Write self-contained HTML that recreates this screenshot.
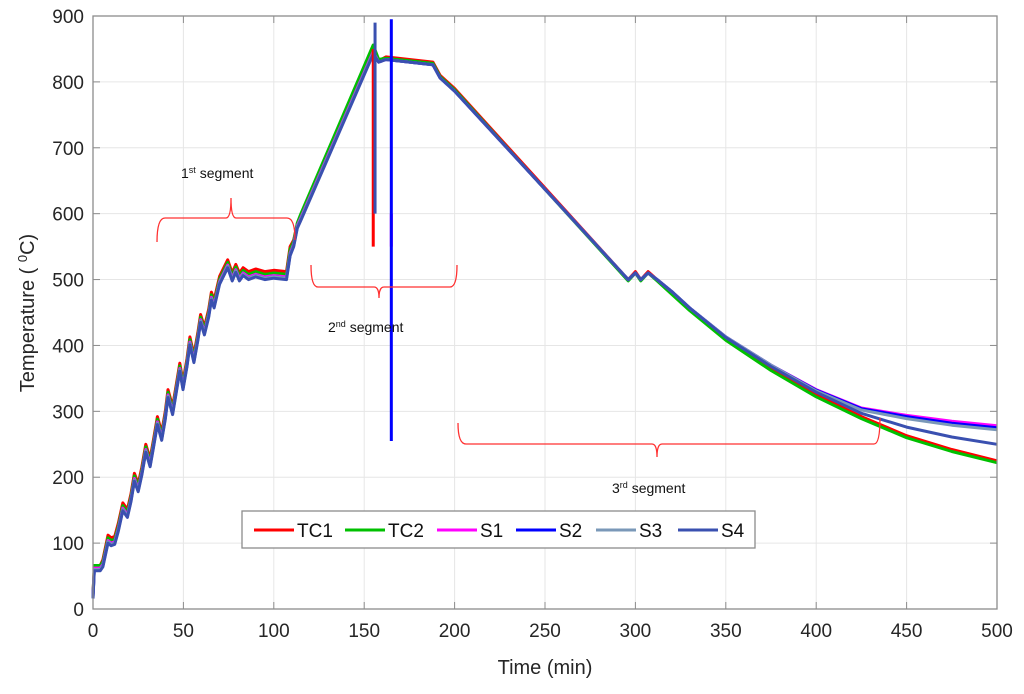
<!DOCTYPE html>
<html><head><meta charset="utf-8"><style>
body{margin:0;background:#fff;font-family:"Liberation Sans",sans-serif}
svg{display:block}
</style></head><body>
<svg id="chart" width="1024" height="694" xmlns="http://www.w3.org/2000/svg"></svg>
<script>
const times=[0,0.7,4,5.5,8.3,10,12,14,16.5,19,21,22.9,25,27,29.2,31.6,33.5,35.6,38,40,41.5,44,46,48,49.8,52,53.6,55.8,58,59.5,61.6,64,65.5,67,70,74.5,77,79,81,83,86,90,95,100,107,109,111,113,115,155,158,162,175,188,192,200,296,300,303,307,312,320,330,350,375,400,425,450,475,500];
const tc1=[22,66,66,75,112,108,110,130,161,151,175,206,190,215,250,228,258,292,268,300,333,307,340,373,345,380,413,386,420,447,428,455,481,469,505,530,510,523,510,518,512,516,512,514,512,550,560,585,598,852,832,838,834,830,810,790,500,512,500,512,500,480,455,410,365,325,292,263,242,225];
const tc2=[22,66,66,72,108,104,106,126,157,147,171,202,186,211,246,224,254,288,264,296,329,303,336,369,341,376,409,382,416,443,424,451,477,465,501,526,506,519,506,514,508,512,508,510,508,546,558,586,600,856,834,836,832,828,808,788,498,510,498,510,498,478,453,408,362,322,289,260,239,222];
const s1=[20,62,62,68,104,100,102,122,153,143,167,198,182,207,242,220,250,284,260,292,325,299,332,365,337,372,405,378,412,439,420,447,473,461,497,522,502,515,502,510,504,508,504,506,504,540,554,582,594,846,830,834,830,826,806,786,500,510,500,510,500,482,457,413,370,333,305,294,285,278];
const s2=[18,60,60,66,102,98,100,120,151,141,165,196,180,205,240,218,248,282,258,290,323,297,330,363,335,370,403,376,410,437,418,445,471,459,495,520,500,513,500,508,502,506,502,504,502,538,552,580,592,844,830,834,830,826,806,786,500,510,500,510,500,482,457,413,370,332,304,292,282,275];
const s3=[18,60,60,66,102,98,100,120,151,141,165,196,180,205,240,218,248,282,258,290,323,297,330,363,335,370,403,376,410,437,418,445,471,459,495,520,500,513,500,508,502,506,502,504,502,538,552,580,592,844,830,834,830,826,806,786,500,510,500,510,500,482,457,413,370,331,302,289,279,272];
const s4=[16,58,58,64,100,96,98,118,149,139,163,194,178,203,238,216,246,280,256,288,321,295,328,361,333,368,401,374,408,435,416,443,469,457,493,518,498,511,498,506,500,504,500,502,500,536,550,578,590,842,830,834,830,826,806,786,500,510,500,510,500,482,457,412,368,329,297,276,261,250];
const seriesNames=["TC1","TC2","S1","S2","S3","S4"];
const spikeT=[155,156,165,165];
const spikeLo=[550,600,550,255];
const spikeHi=[850,890,600,895];
const spikeSeries=[0,5,2,3];
const xTicks=[0,50,100,150,200,250,300,350,400,450,500];
const yTicks=[0,100,200,300,400,500,600,700,800,900];

const colors=["#ff0000","#00c000","#ff00ff","#0000ff","#7a98b8","#3a50b0"];
const L=93,R=997,T=16,B=609;
const xs=v=>L+(v-0)/500*(R-L);
const ys=v=>B-(v/900)*(B-T);
const svg=document.getElementById('chart');
const NS="http://www.w3.org/2000/svg";
function mk(tag,attrs,parent){const e=document.createElementNS(NS,tag);for(const k in attrs)e.setAttribute(k,attrs[k]);(parent||svg).appendChild(e);return e;}

const grid=mk('g',{});


xTicks.forEach(v=>{const l=mk('line',{x1:xs(v),x2:xs(v),y1:T,y2:B,stroke:'#e6e6e6','stroke-width':1},grid);

});
yTicks.forEach(v=>{const l=mk('line',{x1:L,x2:R,y1:ys(v),y2:ys(v),stroke:'#e6e6e6','stroke-width':1},grid);

});

const data=[tc1,tc2,s1,s2,s3,s4];
const lines=mk('g',{});


data.forEach((arr,i)=>{
  const d=arr.map((v,j)=>(j?'L':'M')+xs(times[j]).toFixed(1)+' '+ys(v).toFixed(1)).join(' ');
  const p=mk('path',{d:d,fill:'none',stroke:colors[i],'stroke-width':3,'stroke-linejoin':'round'},lines);
  
  
});
spikeT.forEach((t,i)=>{
  const l=mk('line',{x1:xs(t),x2:xs(t),y1:ys(spikeLo[i]),y2:ys(spikeHi[i]),stroke:colors[spikeSeries[i]],'stroke-width':3},lines);
  
  
});

const ax=mk('g',{});


const box=mk('rect',{x:L,y:T,width:R-L,height:B-T,fill:'none',stroke:'#8c8c8c','stroke-width':1.3},ax);


xTicks.forEach(v=>{
  mk('line',{x1:xs(v),x2:xs(v),y1:B,y2:B-7,stroke:'#8c8c8c'},ax);
  mk('line',{x1:xs(v),x2:xs(v),y1:T,y2:T+7,stroke:'#8c8c8c'},ax);
  const t=mk('text',{x:xs(v),y:B+28,'text-anchor':'middle','font-size':19,fill:'#262626'},ax);t.textContent=v;
  
  
});
yTicks.forEach(v=>{
  mk('line',{x1:L,x2:L+7,y1:ys(v),y2:ys(v),stroke:'#8c8c8c'},ax);
  mk('line',{x1:R,x2:R-7,y1:ys(v),y2:ys(v),stroke:'#8c8c8c'},ax);
  const t=mk('text',{x:L-9,y:ys(v)+7,'text-anchor':'end','font-size':19,fill:'#262626'},ax);t.textContent=v;
  
  
});
</script>
<svg style="position:absolute;left:0;top:0" width="1024" height="694" xmlns="http://www.w3.org/2000/svg">
<text x="545" y="674" text-anchor="middle" font-size="20" fill="#262626" font-family="Liberation Sans">Time (min)</text>
<text transform="translate(34,313) rotate(-90)" text-anchor="middle" font-size="20" fill="#262626" font-family="Liberation Sans">Temperature ( <tspan baseline-shift="super" font-size="13">0</tspan>C)</text>
<g fill="none" stroke="#ff3030" stroke-width="1.3">
<path d="M157 242 Q157 218 165 218 L226 218 Q231 218 231 198 Q231 218 236 218 L287 218 Q295 218 295 240"/>
</g>
<text x="181" y="178" font-size="14" fill="#111" font-family="Liberation Sans">1<tspan baseline-shift="super" font-size="9">st</tspan> segment</text>
<g fill="none" stroke="#ff3030" stroke-width="1.3">
<path d="M311 265 Q311 287 318 287 L374 287 Q379 287 379 298 Q379 287 384 287 L450 287 Q457 287 457 265"/>
</g>
<text x="328" y="332" font-size="14" fill="#111" font-family="Liberation Sans">2<tspan baseline-shift="super" font-size="9">nd</tspan> segment</text>
<g fill="none" stroke="#ff3030" stroke-width="1.3">
<path d="M458 423 Q458 444 466 444 L652 444 Q657 444 657 457 Q657 444 662 444 L874 444 Q880 444 880 418"/>
</g>
<text x="612" y="493" font-size="14" fill="#111" font-family="Liberation Sans">3<tspan baseline-shift="super" font-size="9">rd</tspan> segment</text>
<g font-family="Liberation Sans" font-size="19" fill="#111">
<rect x="242" y="511" width="513" height="37" fill="#fff" stroke="#8c8c8c" stroke-width="1.3"/>
<g><line x1="254" x2="294" y1="530" y2="530" stroke="#ff0000" stroke-width="3"/><text x="297" y="537">TC1</text></g>
<g><line x1="345" x2="385" y1="530" y2="530" stroke="#00c000" stroke-width="3"/><text x="388" y="537">TC2</text></g>
<g><line x1="437" x2="477" y1="530" y2="530" stroke="#ff00ff" stroke-width="3"/><text x="480" y="537">S1</text></g>
<g><line x1="516" x2="556" y1="530" y2="530" stroke="#0000ff" stroke-width="3"/><text x="559" y="537">S2</text></g>
<g><line x1="596" x2="636" y1="530" y2="530" stroke="#7a98b8" stroke-width="3"/><text x="639" y="537">S3</text></g>
<g><line x1="678" x2="718" y1="530" y2="530" stroke="#3a50b0" stroke-width="3"/><text x="721" y="537">S4</text></g>
</g>
</svg>
</body></html>
